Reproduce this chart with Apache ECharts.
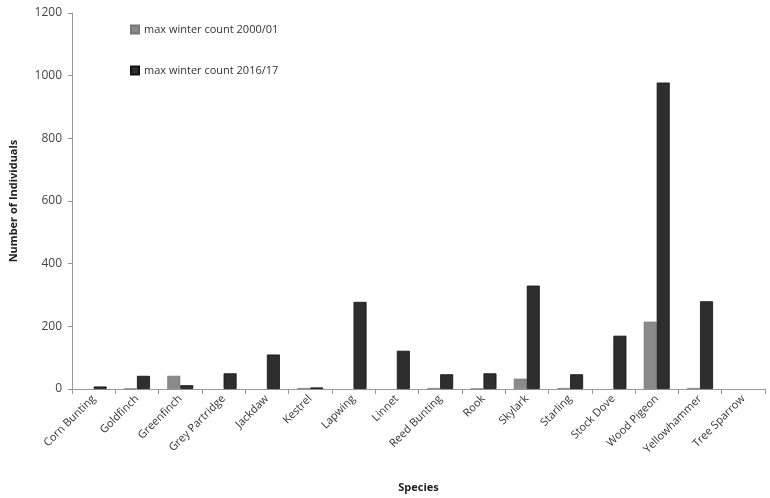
<!DOCTYPE html>
<html><head><meta charset="utf-8">
<script src="https://cdn.jsdelivr.net/npm/echarts@6/dist/echarts.min.js"></script>
<style>html,body{margin:0;padding:0;background:#fff}#c{width:770px;height:498px}</style>
</head><body><div id="c"></div>
<script>
const species = ['Corn Bunting','Goldfinch','Greenfinch','Grey Partridge','Jackdaw','Kestrel','Lapwing','Linnet','Reed Bunting','Rook','Skylark','Starling','Stock Dove','Wood Pigeon','Yellowhammer','Tree Sparrow'];
const count2000 = [0, 2, 42, 0, 0, 3, 0, 0, 3, 2, 33, 3, 0, 215, 3, 0];
const count2017 = [8, 42, 12, 50, 110, 5, 278, 122, 47, 50, 330, 47, 170, 978, 280, 0];
const yTicks = [0, 200, 400, 600, 800, 1000, 1200];

const hideZero = v => (v === 0 ? '-' : v);
const font = "'Open Sans', 'Liberation Sans', sans-serif";
const chart = echarts.init(document.getElementById('c'));
chart.setOption({
  animation: false,
  backgroundColor: '#fff',
  grid: { left: 70, top: 13, right: 5, bottom: 109 },
  legend: {
    orient: 'vertical', left: 125, top: 19, itemGap: 30,
    itemWidth: 8, itemHeight: 8, icon: 'rect',
    textStyle: { color: '#333', fontSize: 11, fontFamily: font }
  },
  xAxis: {
    type: 'category', data: species,
    name: 'Species', nameLocation: 'middle', nameGap: 93,
    nameTextStyle: { fontWeight: 'bold', fontSize: 11, color: '#222', fontFamily: font },
    axisLine: { lineStyle: { color: '#999' } },
    axisTick: { show: true, alignWithLabel: false, length: 5, lineStyle: { color: '#999' } },
    axisLabel: { rotate: 45, interval: 0, fontSize: 11, color: '#333', fontFamily: font, margin: 8 }
  },
  yAxis: {
    type: 'value', min: yTicks[0], max: yTicks[yTicks.length - 1], interval: 200,
    name: 'Number of Individuals', nameLocation: 'middle', nameGap: 53,
    nameTextStyle: { fontWeight: 'bold', fontSize: 11, color: '#222', fontFamily: font },
    axisLine: { show: true, lineStyle: { color: '#999' } },
    axisTick: { show: true, length: 4, lineStyle: { color: '#999' } },
    splitLine: { show: false },
    axisLabel: { fontSize: 12, color: '#444', fontFamily: font, margin: 10, formatter: v => String(v) }
  },
  series: [
    { name: 'max winter count 2000/01', type: 'bar', data: count2000.map(hideZero),
      barGap: '0%', barCategoryGap: '40%',
      itemStyle: { color: '#8a8a8a', borderColor: '#777', borderWidth: 0.6 } },
    { name: 'max winter count 2016/17', type: 'bar', data: count2017.map(hideZero),
      itemStyle: { color: '#2e2e2e', borderColor: '#111', borderWidth: 0.8 } }
  ]
});
</script></body></html>
